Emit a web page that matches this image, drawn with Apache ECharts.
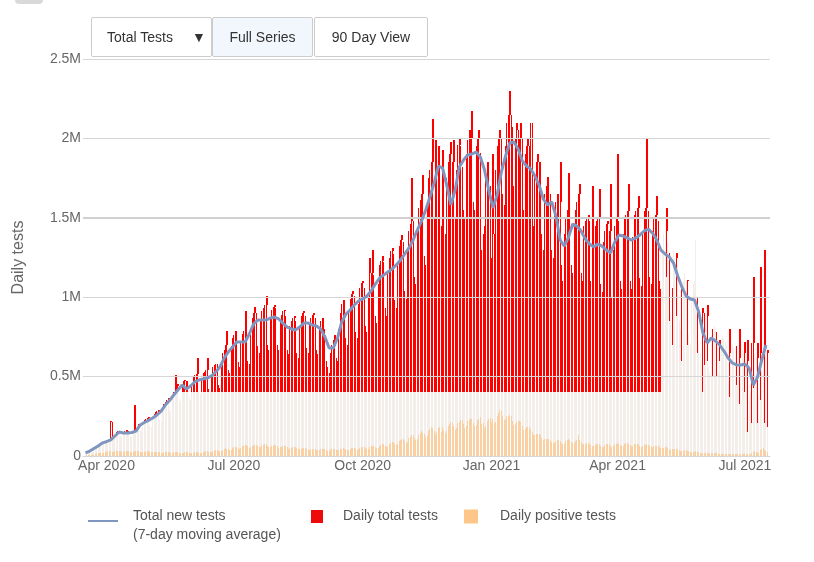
<!DOCTYPE html>
<html><head><meta charset="utf-8">
<script src="https://cdn.jsdelivr.net/npm/echarts@6/dist/echarts.min.js"></script>
<style>
html,body{margin:0;padding:0;background:#fff;}
#wrap{position:relative;width:814px;height:562px;overflow:hidden;font-family:'Liberation Sans',Arial,sans-serif;}
#chart{position:absolute;left:0;top:0;width:814px;height:562px;}
.btn{position:absolute;top:17px;height:40px;box-sizing:border-box;border:1px solid #cccccc;border-radius:2px;background:#fff;color:#333;font-size:14px;line-height:38px;white-space:nowrap;}
.tab{position:absolute;left:15px;top:-5px;width:28px;height:9px;background:#d9d9d9;border-radius:4px;}
</style></head>
<body><div id="wrap"><div id="chart"></div>
<div class="tab"></div>
<div class="btn" style="left:91px;width:121px;padding-left:15px;">Total Tests<span style="position:absolute;left:100px;top:0;">&#9660;</span></div>
<div class="btn" style="left:212px;width:101px;text-align:center;background:#f2f7fd;">Full Series</div>
<div class="btn" style="left:314px;width:114px;text-align:center;">90 Day View</div>
</div>
<script>
// ---------------- DATA ----------------
const startDate = '2020-03-17';           // day 0 of the daily series
const tickDates = ['2020-04-01','2020-07-01','2020-10-01','2021-01-01','2021-04-01','2021-07-01'];
const tickLabels = ['Apr 2020','Jul 2020','Oct 2020','Jan 2021','Apr 2021','Jul 2021'];

// Daily total tests (thousands), one value per day from startDate
const dailyTotalTestsK = [
17,22,27,33,30,28,45, 58,65,72,74,62,60,85, 95,98,102,104,220,215,110, 135,150,158,160,125,118,150,
158,162,160,158,125,120,150, 320,315,185,200,165,160,210, 225,235,240,245,190,180,240, 265,275,285,290,225,215,285,
325,340,355,365,290,280,370, 405,510,440,455,360,345,455, 470,480,475,470,370,350,450, 500,510,515,620,400,390,490,
520,530,540,620,420,400,510, 560,570,580,580,450,430,560, 650,670,700,790,540,520,690, 740,760,790,770,590,560,720,
770,790,910,800,600,580,760, 870,900,940,900,690,650,850, 910,930,950,1010,700,670,860, 920,940,950,930,700,670,860,
890,910,920,880,670,640,820, 850,870,880,850,650,620,810, 880,900,910,880,680,650,830, 870,890,900,870,670,640,810,
850,870,860,800,600,560,520, 650,700,730,760,620,600,800, 900,960,980,960,740,700,900, 990,1020,1040,1010,780,740,960,
1060,1090,1100,1060,820,780,1000, 1250,1150,1300,1140,880,840,1080, 1200,1230,1260,1220,930,880,1150, 1250,1290,1310,1270,980,930,1200,
1320,1360,1390,1350,1040,990,1290, 1420,1460,1750,1480,1130,1080,1420, 1560,1610,1650,1770,1260,1200,1560, 1750,1800,1850,2120,1500,1990,1780,
1950,1930,1450,1930,1450,1400,1750, 1850,1900,1980,1850,1990,1500,1800, 1960,2000,1950,1820,1550,1500,1900, 1990,2050,2000,2170,1600,1550,1950,
2000,2050,1910,1300,1400,1450,1800, 1850,1800,1700,1250,1900,1400,1800, 1950,2000,2050,2000,1650,1580,1950, 2100,2150,2300,2150,2070,1700,2000,
2100,2050,2000,2100,2000,1550,1900, 1950,2000,1950,2100,2100,1450,1750, 1850,1900,1850,1850,1400,1300,1650, 1700,1760,1700,1650,1300,1250,1550,
1600,1650,1600,1850,1200,1100,1400, 1500,1550,1780,1550,1200,1150,1450, 1550,1600,1650,1710,1150,1100,1450, 1480,1500,1520,1480,1100,1700,1350,
1450,1480,1500,1680,1080,1030,1350, 1420,1460,1480,1420,1710,1000,1300, 1450,1500,1900,1480,1100,1050,1400, 1500,1520,1540,1710,1100,1050,1380,
1520,1540,1560,1640,1120,1070,1420, 1540,1560,2000,1540,1130,1080,1420, 1500,1520,1640,1480,1100,1050,
1300,1400,1420,1560,1350,1280,900,1060,1300,1250,1280,1200,850,800,1060,1100,1150,1100,1110,760,
700,1000,1080,1100,1360,1000,700,650,600,930,900,880,950,560,520,760,800,820,800,780,
520,730,700,760,740,720,700,470,800,650,700,680,690,690,440,800,620,660,650,720,
600,730,380,400,710,1130,640,620,710,380,1190,650,700,1300,650,670
];

// Height of the lighter (faded) lower part of each total-tests bar in the reference (thousands)
const fadedBarK = [
17,22,27,31,30,28,45, 52,57,63,69,62,60,85, 88,90,91,94,97,101,109, 126,134,142,151,125,118,145,
145,145,145,145,125,120,148, 151,154,157,170,165,160,200, 211,215,220,224,190,180,239, 245,252,258,266,225,215,285,
309,321,330,340,290,280,370, 384,395,400,400,360,345,400, 400,400,400,400,370,350,400, 400,400,400,400,400,390,400,
400,400,400,400,400,400,400,400,400,400,400,400,400,400,400,400,400,400,400,400,
400,400,400,400,400,400,400,400,400,400,400,400,400,400,400,400,400,400,400,400,
400,400,400,400,400,400,400,400,400,400,400,400,400,400,400,400,400,400,400,400,
400,400,400,400,400,400,400,400,400,400,400,400,400,400,400,400,400,400,400,400,
400,400,400,400,400,400,400,400,400,400,400,400,400,400,400,400,400,400,400,400,
400,400,400,400,400,400,400,400,400,400,400,400,400,400,400,400,400,400,400,400,
400,400,400,400,400,400,400,400,400,400,400,400,400,400,400,400,400,400,400,400,
400,400,400,400,400,400,400,400,400,400,400,400,400,400,400,400,400,400,400,400,
400,400,400,400,400,400,400,400,400,400,400,400,400,400,400,400,400,400,400,400,
400,400,400,400,400,400,400,400,400,400,400,400,400,400,400,400,400,400,400,400,
400,400,400,400,400,400,400,400,400,400,400,400,400,400,400,400,400,400,400,400,
400,400,400,400,400,400,400,400,400,400,400,400,400,400,400,400,400,400,400,400,
400,400,400,400,400,400,400,400,400,400,400,400,400,400,400,400,400,400,400,400,
400,400,400,400,400,400,400,400,400,400,400,400,400,400,400,400,400,400,400,400,
400,400,400,400,400,400,400,400,400,400,400,400,400,400,400,400,400,400,400,400,
400,400,400,400,400,400,400,400,400,400,400,400,400,400,400,400,400,400,400,400,
400,400,400,400,400,400,400,400,
1300,1400,1420,1130,1350,850,900,700,1300,1250,880,1200,850,800,600,1100,1150,1100,700,760,
700,1000,1080,1100,1360,650,700,650,600,400,570,880,600,560,520,760,500,820,800,500,
520,600,700,760,740,720,700,470,370,650,700,680,690,450,440,330,620,660,650,400,
600,150,380,400,210,430,640,620,210,380,350,650,700,210,650,180
];

// Daily positive tests (thousands)
const dailyPositiveK = [
3,4,5,7,8,8,10, 13,16,18,20,20,19,21, 25,27,30,31,29,26,27, 29,31,33,32,29,26,27, 30,31,33,32,28,26,27,
29,30,31,30,27,24,25, 28,29,30,29,26,23,24, 26,27,28,27,24,21,22, 25,26,27,26,23,20,21, 23,24,25,24,21,19,20,
22,23,24,23,21,18,19, 22,23,24,24,22,19,21, 25,27,29,29,26,23,25, 31,34,37,37,33,29,31, 40,44,48,47,43,38,40,
50,54,58,58,52,46,48, 60,64,68,67,60,53,56, 65,68,72,72,64,56,59, 68,70,74,73,64,56,58, 64,66,70,68,60,52,54,
58,60,63,61,54,47,49, 52,54,57,55,48,42,44, 47,49,51,49,43,38,40, 43,45,47,45,40,35,37, 42,44,46,44,39,34,34,
41,43,45,44,39,35,38, 43,45,48,47,42,37,40, 46,49,52,51,45,40,43, 50,54,57,56,50,44,47, 56,60,64,63,56,49,53,
64,69,74,73,65,57,61, 76,82,88,87,77,68,73, 92,100,108,106,94,83,90, 112,122,132,130,115,101,108, 135,145,156,154,136,120,128,
158,168,180,178,158,140,150, 175,182,150,185,165,145,158, 190,200,212,210,186,165,175, 205,215,228,225,200,178,188, 218,228,240,236,210,186,196,
225,235,245,200,210,175,190, 220,230,240,215,235,205,215, 250,270,290,285,255,225,235, 250,255,260,250,220,195,200, 215,220,222,212,188,165,170,
180,182,180,170,150,130,135, 140,140,138,130,115,100,104, 110,110,108,102,90,80,82, 95,98,100,96,85,75,78, 95,100,105,102,90,80,83,
95,100,130,102,88,76,78, 78,80,82,78,68,60,62, 70,73,76,73,64,56,58, 72,75,78,75,66,58,60, 75,78,80,78,68,60,62,
76,79,81,78,68,60,62, 74,77,78,75,66,58,60, 70,72,73,70,62,54,56, 62,64,65,62,55,48,50, 52,54,55,52,46,40,42,
43,44,45,42,37,32,34, 34,35,36,33,29,25,27, 27,28,29,27,23,20,18, 21,22,22,20,17,15,16, 17,18,18,16,14,12,13,
14,15,15,13,11,10,11, 13,14,14,12,11,9,10, 14,15,16,14,12,10,9, 22,26,30,28,24,20,40, 45,50,35,30,28
];

// Total new tests, 7-day moving average (thousands), one value every 3 days from startDate
const movingAvgStepDays = 3;
const movingAvgK = [
19,31,47,63,82,91,101,126,151,145,
145,148,157,195,211,224,239,258,283,321,
349,384,416,447,422,441,466,479,485,491,
504,529,560,617,655,686,718,718,718,768,
831,856,856,856,869,875,863,837,812,800,
793,812,837,837,825,819,800,749,680,680,
743,844,894,919,951,976,989,1008,1039,1083,
1121,1140,1159,1178,1203,1234,1272,1310,1360,1423,
1480,1549,1631,1719,1826,1814,1706,1581,1675,1820,
1864,1895,1902,1914,1883,1801,1675,1562,1643,1788,
1889,1971,1977,1933,1858,1826,1807,1763,1706,1618,
1581,1600,1511,1360,1322,1379,1461,1448,1417,1366,
1335,1316,1335,1322,1297,1278,1348,1392,1385,1373,
1360,1373,1392,1417,1429,1404,1360,1297,1272,1253,
1215,1133,1064,1008,989,982,907,775,712,743,
724,699,661,617,586,573,573,579,554,447,
497,604,699
];

const yTicks = [0, 500000, 1000000, 1500000, 2000000, 2500000];
const emphasisedGridValue = 1500000;   // this gridline is drawn heavier in the reference

// ---------------- BUILD ----------------
const FONT = "'Liberation Sans', Arial, Helvetica, sans-serif";
const DAY = 864e5;
const t0 = Date.parse(startDate + 'T00:00:00Z');
const tickDays = tickDates.map(s => Math.round((Date.parse(s + 'T00:00:00Z') - t0) / DAY));
const MA_NAME = 'Total new tests\n(7-day moving average)';
const RED = '#ff0000', FADED = '#f3eee9', POS = 'rgba(255,176,96,0.5)';

const totalData = dailyTotalTestsK.map((v, i) => [i, v * 1000, Math.min(v, fadedBarK[i]) * 1000]);
const positiveData = dailyPositiveK.map((v, i) => [i, v * 1000]);
const maData = movingAvgK.map((v, i) => [i * movingAvgStepDays, v * 1000]);

// crisp 1px columns, snapped to whole pixels
function column(api, x, lo, hi, fill, dx) {
  const pLo = api.coord([x, lo]), pHi = api.coord([x, hi]);
  const left = Math.round(pLo[0] - 0.5) + (dx || 0);
  const yTop = Math.round(pHi[1]), yBot = Math.round(pLo[1]);
  return {type: 'rect', shape: {x: left, y: yTop, width: 1, height: Math.max(0, yBot - yTop)}, style: {fill: fill}};
}
function renderTotal(params, api) {
  const i = params.dataIndex;
  const x = api.value(0), tot = api.value(1), fad = api.value(2);
  const kids = [column(api, x, 0, fad, FADED), column(api, x, fad, tot, RED)];
  // a red tip standing above both neighbours is drawn 2px wide so it stays visible
  const prev = i > 0 ? dailyTotalTestsK[i - 1] * 1000 : 0;
  const next = i < dailyTotalTestsK.length - 1 ? dailyTotalTestsK[i + 1] * 1000 : 0;
  const floor = Math.max(fad, prev, next);
  if (tot > floor) kids.push(column(api, x, floor, tot, RED, 1));
  return {type: 'group', children: kids};
}
function renderPositive(params, api) {
  return column(api, api.value(0), 0, api.value(1), POS);
}

const chart = echarts.init(document.getElementById('chart'), null, {renderer: 'canvas'});
const legendText = {fontFamily: FONT, fontSize: 14, color: '#555', lineHeight: 19};
chart.setOption({
  animation: false,
  textStyle: {fontFamily: FONT},
  grid: {left: 83, right: 44, top: 59, bottom: 106, containLabel: false, outerBoundsMode: 'none'},
  xAxis: {
    type: 'value', min: -1.8, max: 488.9,
    axisLine: {show: true, lineStyle: {color: '#ccd6eb'}},
    axisTick: {show: false},
    splitLine: {show: false},
    axisLabel: {
      customValues: tickDays,
      formatter: v => { const k = tickDays.indexOf(Math.round(v)); return k >= 0 ? tickLabels[k] : ''; },
      color: '#666', fontSize: 14, margin: 3, fontFamily: FONT
    }
  },
  yAxis: {
    type: 'value', min: 0, max: 2500000, interval: 500000, z: 5,
    name: 'Daily tests', nameLocation: 'middle', nameGap: 56, nameRotate: 90,
    nameTextStyle: {fontSize: 16, color: '#666', fontFamily: FONT},
    axisLine: {show: false}, axisTick: {show: false},
    splitLine: {show: true, lineStyle: {color: '#d6d6d6', width: 1}},
    axisLabel: {
      customValues: yTicks,
      formatter: v => v === 0 ? '0' : (v / 1e6) + 'M',
      color: '#666', fontSize: 14, margin: 2, fontFamily: FONT
    }
  },
  legend: [
    {left: 88, top: 501, padding: 0, data: [MA_NAME], itemWidth: 30, itemHeight: 14, selectedMode: false,
     icon: 'path://M0,0H0.01V0.01H0Z M0,1H30V3H0Z M0,14H0.01V13.99H0Z',
     textStyle: Object.assign({}, legendText, {padding: [12, 0, 0, 10]})},
    {left: 311, top: 507, padding: 0, data: [{name: 'Daily total tests', itemStyle: {color: '#ee0a0a'}}], icon: 'rect', itemWidth: 12, itemHeight: 13, selectedMode: false,
     textStyle: Object.assign({}, legendText, {padding: [0, 0, 0, 15]})},
    {left: 464, top: 507, padding: 0, data: [{name: 'Daily positive tests', itemStyle: {color: '#ffc68a', opacity: 1}}], icon: 'rect', itemWidth: 14, itemHeight: 14, selectedMode: false,
     textStyle: Object.assign({}, legendText, {padding: [0, 0, 0, 17]})}
  ],
  series: [
    {name: 'Daily total tests', type: 'custom', data: totalData, renderItem: renderTotal,
     encode: {x: 0, y: [1, 2]}, itemStyle: {color: RED}, z: 2, clip: true},
    {name: 'Daily positive tests', type: 'custom', data: positiveData, renderItem: renderPositive,
     encode: {x: 0, y: 1}, itemStyle: {color: '#ffc68a'}, z: 3, clip: true,
     markLine: {silent: true, symbol: 'none', label: {show: false},
       lineStyle: {color: '#d0d0d0', width: 2, type: 'solid'}, data: [{yAxis: emphasisedGridValue}]}},
    {name: MA_NAME, type: 'line', data: maData, symbol: 'none', smooth: false, z: 20,
     lineStyle: {color: '#7f96c0', width: 3}, itemStyle: {color: '#7f96c0'}}
  ]
});
</script>
</body></html>
